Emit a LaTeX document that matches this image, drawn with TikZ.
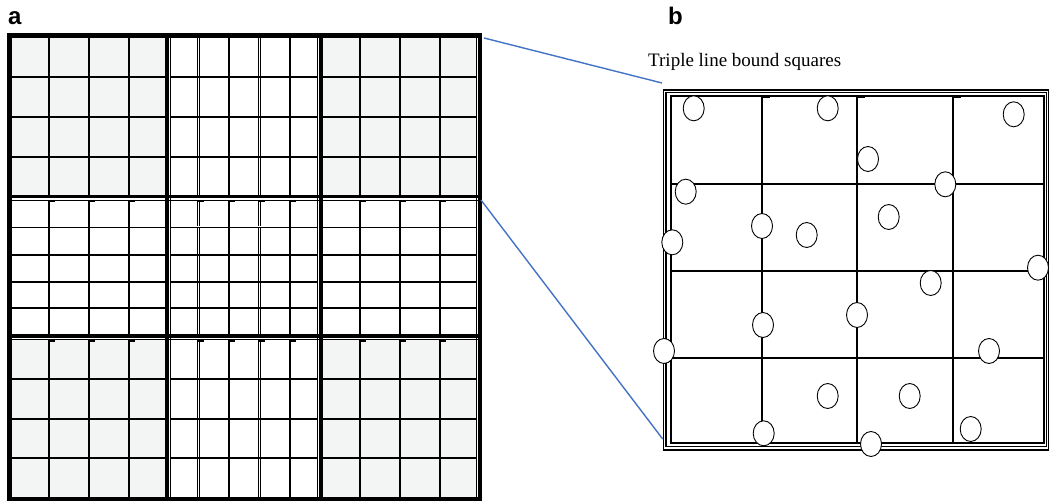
\documentclass[tikz,border=0pt]{standalone}
\usepackage{fontspec}
\setmainfont{Liberation Serif}
\newfontfamily\labelfont{Liberation Sans}
\usetikzlibrary{shapes.geometric}
\definecolor{cellgray}{HTML}{F3F5F4}
\definecolor{linkblue}{HTML}{4472C4}
\begin{document}
\begin{tikzpicture}[x=1pt,y=-1pt,
  cellline/.style={line width=1.8pt},
  dblline/.style={double=white, double distance=1pt, line width=0.75pt},
  thinedge/.style={line width=1pt},
  smalltick/.style={line width=1.1pt},
  marker/.style={ellipse, draw, fill=white, line width=0.9pt,
    minimum width=21pt, minimum height=25pt, inner sep=0pt},
  link/.style={draw=linkblue, line width=1.4pt},
  frameline/.style={line width=1.3pt},
  panelline/.style={line width=1.7pt},
  panellabel/.style={anchor=base west, inner sep=0pt,
    font=\labelfont\bfseries\fontsize{24}{28}\selectfont},
  ]
\useasboundingbox (0,0) rectangle (1049,502);

% ---------- panel a: 3 x 3 blocks ----------
% shaded corner blocks
\fill[cellgray] (12,38) rectangle (165,195);
\fill[cellgray] (323,38) rectangle (476,195);
\fill[cellgray] (12,340) rectangle (165,497);
\fill[cellgray] (323,340) rectangle (476,497);

% double cell lines
\foreach \ya/\yb in {38/195,201/334,340/497}
  \foreach \x in {198.7,259.5} \draw[dblline] (\x,\ya) -- (\x,\yb);
\foreach \xa/\xb in {12/165,171/317,323/476}
  \draw[dblline] (\xa,227) -- (\xb,227);

% single cell lines
\foreach \ya/\yb in {38/195,201/334,340/497}
  \foreach \x in {49,89,129,229,290,360,400,440} \draw[cellline] (\x,\ya) -- (\x,\yb);
\foreach \xa/\xb in {12/165,171/317,323/476}
  \foreach \y in {77,117,157,255,282,308,379,419,458} \draw[cellline] (\xa,\y) -- (\xb,\y);

% short marks at the tops of the column lines
\foreach \y in {201.8,341}
  \foreach \x in {49,89,129,198,229,259,290,360,400,440}
    \draw[smalltick] (\x-0.5,\y) -- (\x+5.5,\y);

% thin companions of the block borders
\foreach \x in {170.5,317.5,476.3} \draw[thinedge] (\x,33) -- (\x,501);
\foreach \y in {200.3,339.7} \draw[thinedge] (7,\y) -- (482,\y);

% heavy block borders
\draw[line width=5pt] (9.5,33) -- (9.5,501);
\draw[line width=4pt] (167,33) -- (167,501);
\draw[line width=3.5pt] (321,33) -- (321,501);
\draw[line width=4pt] (480,33) -- (480,501);
\draw[line width=5pt] (7,35.5) -- (482,35.5);
\draw[line width=3.5pt] (7,196.5) -- (482,196.5);
\draw[line width=4pt] (7,336) -- (482,336);
\draw[line width=4pt] (7,499) -- (482,499);

% ---------- panel b: enlarged block ----------
\draw[frameline] (663.5,90) rectangle (1048.5,450);
\draw[frameline] (666,92.5) rectangle (1046.3,446.8);
\draw[panelline] (670.7,96) rectangle (1043.8,443.2);
\foreach \x in {762,856.7,953.3} \draw[panelline] (\x,96) -- (\x,443.2);
\foreach \y in {184,271,358} \draw[panelline] (670.7,\y) -- (1043.8,\y);
\foreach \x in {762,856.7,953.3} \draw[smalltick] (\x,97.2) -- (\x+8,97.2);

% circles
\node[marker] (c1)  at (693.7,108.3) {};
\node[marker] (c2)  at (827.7,108.3) {};
\node[marker] (c3)  at (1013.7,114.3) {};
\node[marker] (c4)  at (868,159) {};
\node[marker] (c5)  at (685.7,191.7) {};
\node[marker] (c6)  at (945.3,184.3) {};
\node[marker] (c7)  at (762,226) {};
\node[marker] (c8)  at (806.7,235) {};
\node[marker] (c9)  at (888.7,217) {};
\node[marker] (c10) at (672.3,242.3) {};
\node[marker] (c11) at (1038,267.7) {};
\node[marker] (c12) at (930.7,283) {};
\node[marker] (c13) at (763,325) {};
\node[marker] (c14) at (857,315) {};
\node[marker] (c15) at (664,351) {};
\node[marker] (c16) at (989,351) {};
\node[marker] (c17) at (827.7,396) {};
\node[marker] (c18) at (909.7,396) {};
\node[marker] (c19) at (970.7,429) {};
\node[marker] (c20) at (763.7,433.3) {};
\node[marker] (c21) at (871,444) {};

% ---------- links between the panels ----------
\coordinate (gridTR) at (484,38);
\coordinate (gridMR) at (481,200);
\coordinate (zoomTL) at (662,83);
\coordinate (zoomBL) at (662.7,439);
\draw[link] (gridTR) -- (zoomTL);
\draw[link] (gridMR) -- (zoomBL);

% ---------- labels ----------
\node[panellabel] (la) at (8,25) {a};
\node[panellabel] (lb) at (668,25) {b};
\node[anchor=base west, inner sep=0pt, font=\fontsize{19}{22}\selectfont]
  (caption) at (648,67) {Triple line bound squares};
\end{tikzpicture}
\end{document}
